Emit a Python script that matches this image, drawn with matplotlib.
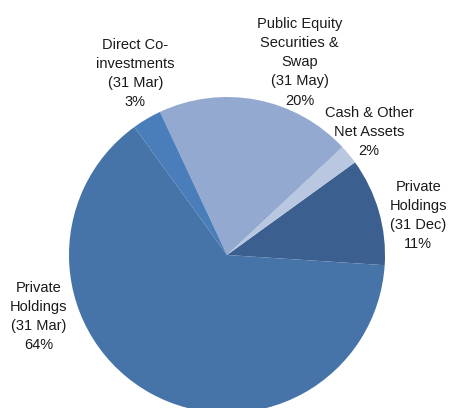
import matplotlib
matplotlib.use("Agg")
import matplotlib.pyplot as plt
from matplotlib import font_manager

# data (counter-clockwise from the right)
labels = ["Private\nHoldings\n(31 Dec)", "Cash & Other\nNet Assets",
          "Public Equity\nSecurities &\nSwap\n(31 May)", "Direct Co-\ninvestments\n(31 Mar)",
          "Private\nHoldings\n(31 Mar)"]
values = [11, 2, 20, 3, 64]
colors = ["#3B5F8F", "#B9C7E0", "#93A9CF", "#4A7EBB", "#4673A8"]

# label anchor points (data units, pie radius = 1)
label_pos = [(1.21, 0.25), (0.90, 0.78), (0.46, 1.22), (-0.58, 1.15), (-1.19, -0.39)]

names = [f.name for f in font_manager.fontManager.ttflist]
fam = "Liberation Sans Narrow" if "Liberation Sans Narrow" in names else "Liberation Sans"

fig = plt.figure(figsize=(4.49, 4.08), dpi=100)
ax = fig.add_axes([0, 0, 1, 1])
ax.pie(values, colors=colors, startangle=-3.7, counterclock=True, radius=1,
       wedgeprops=dict(linewidth=0))
ax.set_xlim(-227 / 158, (449 - 227) / 158)
ax.set_ylim(-(408 - 255) / 158, 255 / 158)
ax.set_aspect("equal")
ax.axis("off")

for lab, v, (x, y) in zip(labels, values, label_pos):
    ax.text(x, y, f"{lab}\n{v}%", ha="center", va="center", fontsize=10.5,
            family=fam, color="#1a1a1a", linespacing=1.47)

fig.savefig("out.png", dpi=100)
